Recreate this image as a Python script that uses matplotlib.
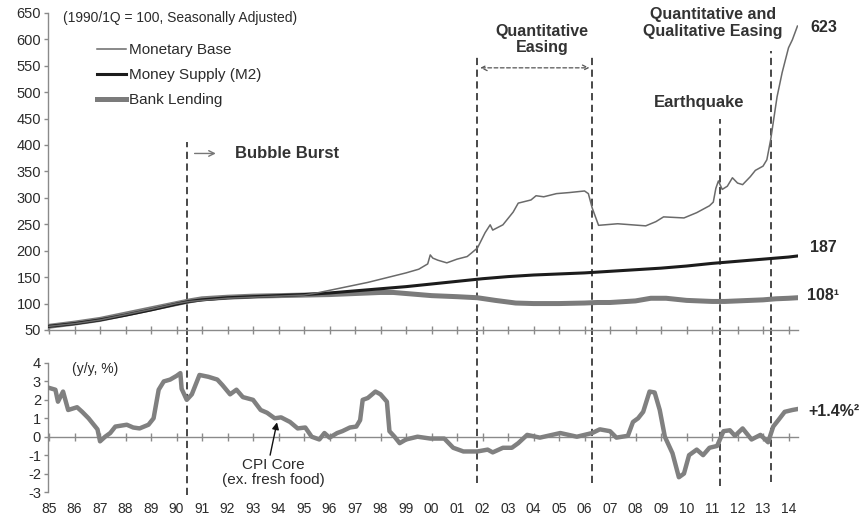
import numpy as np
import matplotlib
matplotlib.use("Agg")
import matplotlib.pyplot as plt

plt.rcParams['font.family'] = ['Liberation Sans', 'DejaVu Sans']
plt.rcParams['axes.unicode_minus'] = False

# ---- data ----
mb_x = [1985, 1986, 1987, 1988, 1989, 1990, 1990.5, 1991, 1992, 1993, 1994, 1995, 1995.5,
        1996, 1996.5, 1997, 1997.5, 1998, 1998.5, 1999, 1999.5, 1999.85, 1999.95, 2000.05,
        2000.25, 2000.6, 2001.0, 2001.4, 2001.8, 2002.1, 2002.3, 2002.4, 2002.8, 2003.2,
        2003.4, 2003.9, 2004.1, 2004.4, 2004.9, 2005.4, 2006.0, 2006.15, 2006.3, 2006.55,
        2007.3, 2008.4, 2008.8, 2009.1, 2009.9, 2010.4, 2010.9, 2011.05, 2011.15, 2011.25,
        2011.4, 2011.6, 2011.8, 2012.0, 2012.2, 2012.5, 2012.7, 2013.0, 2013.15, 2013.3,
        2013.55, 2013.75, 2014.0, 2014.15, 2014.35]
mb_y = [57, 62, 69, 79, 89, 100, 104, 106, 110, 112, 114, 116, 120,
        125, 130, 135, 140, 146, 152, 158, 165, 175, 192, 186,
        182, 177, 184, 189, 205, 234, 249, 239, 249, 273,
        290, 296, 304, 302, 308, 310, 313, 308, 281, 248,
        251, 247, 255, 264, 262, 272, 285, 292, 318, 332,
        316, 322, 338, 328, 325, 340, 352, 360, 372, 410,
        491, 537, 584, 599, 625]

m2_x = [1985, 1986, 1987, 1988, 1989, 1990, 1990.5, 1991, 1992, 1993, 1994, 1995, 1996,
        1997, 1998, 1999, 2000, 2001, 2002, 2003, 2004, 2005, 2006, 2007, 2008, 2009,
        2010, 2011, 2012, 2013, 2014, 2014.35]
m2_y = [57, 62, 69, 78, 88, 99, 104, 107, 111, 113, 115, 117, 120,
        124, 128, 132, 137, 142, 147, 151, 154, 156, 158, 161, 164, 167,
        171, 176, 180, 184, 188, 190]

bl_x = [1985, 1986, 1987, 1988, 1989, 1990, 1990.5, 1991, 1992, 1993, 1994, 1995, 1996,
        1997, 1998, 1998.5, 1999, 2000, 2001, 2001.8, 2002.5, 2003.3, 2004, 2005, 2006,
        2006.5, 2007, 2008, 2008.6, 2009.2, 2010, 2011, 2011.5, 2012, 2013, 2013.5, 2014,
        2014.35]
bl_y = [57, 63, 70, 80, 90, 100, 105, 109, 112, 114, 115, 116, 117,
        119, 121, 121, 119, 115, 113, 111, 106, 101, 100, 100, 101,
        102, 102, 105, 110, 110, 106, 104, 104, 105, 107, 109, 110,
        111]

cpi_x = [1985.0, 1985.25, 1985.35, 1985.55, 1985.75, 1986.1, 1986.3, 1986.55, 1986.9, 1987.0,
         1987.2, 1987.4, 1987.6, 1988.05, 1988.3, 1988.55, 1988.9, 1989.1, 1989.3, 1989.5,
         1989.75, 1990.0, 1990.15, 1990.2, 1990.4, 1990.6, 1990.9, 1991.25, 1991.6, 1991.8,
         1992.1, 1992.35, 1992.6, 1993.0, 1993.3, 1993.55, 1993.85, 1994.1, 1994.45, 1994.75,
         1995.05, 1995.3, 1995.6, 1995.8, 1996.0, 1996.3, 1996.5, 1996.8, 1997.05, 1997.2,
         1997.3, 1997.5, 1997.8, 1998.0, 1998.25, 1998.35, 1998.55, 1998.75, 1999.0, 1999.45,
         1999.95, 2000.5, 2000.85, 2001.25, 2001.8, 2002.2, 2002.4, 2002.8, 2003.15, 2003.4,
         2003.75, 2004.25, 2005.05, 2005.7, 2006.3, 2006.6, 2007.0, 2007.25, 2007.7, 2007.9,
         2008.1, 2008.3, 2008.55, 2008.75, 2008.95, 2009.15, 2009.45, 2009.7, 2009.9, 2010.1,
         2010.4, 2010.65, 2010.9, 2011.2, 2011.45, 2011.7, 2011.9, 2012.2, 2012.55, 2012.9,
         2013.2, 2013.4, 2013.6, 2013.85, 2014.15, 2014.35]
cpi_y = [2.65, 2.55, 1.9, 2.45, 1.45, 1.6, 1.35, 1.0, 0.4, -0.25,
         0.0, 0.2, 0.55, 0.65, 0.5, 0.45, 0.65, 1.0, 2.55, 3.0,
         3.1, 3.3, 3.45, 2.6, 2.0, 2.3, 3.35, 3.25, 3.1, 2.8,
         2.3, 2.55, 2.15, 2.0, 1.45, 1.3, 1.0, 1.05, 0.8, 0.45,
         0.5, 0.0, -0.15, 0.2, -0.05, 0.2, 0.3, 0.5, 0.55, 0.9,
         2.0, 2.1, 2.45, 2.3, 1.9, 0.3, 0.0, -0.35, -0.15, 0.0,
         -0.1, -0.1, -0.6, -0.8, -0.8, -0.7, -0.85, -0.6, -0.6, -0.35,
         0.1, -0.05, 0.2, 0.0, 0.2, 0.4, 0.3, -0.05, 0.05, 0.8,
         1.0, 1.35, 2.45, 2.4, 1.45, 0.0, -0.9, -2.2, -2.0, -1.0,
         -0.7, -1.0, -0.6, -0.5, 0.3, 0.35, 0.05, 0.45, -0.15, 0.1,
         -0.3, 0.55, 0.9, 1.35, 1.45, 1.5]

years = list(range(1985, 2015))
year_labels = [f"{y % 100:02d}" for y in years]

# event lines: x position, top (upper panel), bottom (lower panel)
event_x = [1990.4, 2001.8, 2006.3, 2011.3, 2013.3]
event_top = [405, 570, 570, 450, 577]
event_bot = [-3.15, -2.5, -2.5, -2.7, -2.45]

gray_axis = '#8a8a8a'
txt = '#2b2b2b'

fig = plt.figure(figsize=(8.62, 5.19), dpi=100)
ax1 = fig.add_axes([0.0557, 0.3642, 0.870, 0.611])
ax2 = fig.add_axes([0.0557, 0.052, 0.870, 0.2486])

xlim = (1984.96, 2014.37)

# ---- upper panel ----
for x, t in zip(event_x, event_top):
    ax1.plot([x, x], [40, t], color='#3a3a3a', lw=1.3, ls=(0, (4, 2.5)), clip_on=False, zorder=1)

ax1.plot(bl_x, bl_y, color='#7b7b7b', lw=3.6, label='Bank Lending', zorder=3)
ax1.plot(m2_x, m2_y, color='#1c1c1c', lw=2.2, label='Money Supply (M2)', zorder=4)
ax1.plot(mb_x, mb_y, color='#6a6a6a', lw=1.1, label='Monetary Base', zorder=5)

ax1.set_xlim(*xlim)
ax1.set_ylim(50, 650)
ax1.set_yticks(range(50, 651, 50))
ax1.set_xticks(years)
ax1.set_xticklabels([])
for s in ['top', 'right']:
    ax1.spines[s].set_visible(False)
for s in ['left', 'bottom']:
    ax1.spines[s].set_color(gray_axis)
    ax1.spines[s].set_linewidth(1.0)
ax1.tick_params(axis='x', direction='inout', length=6, color=gray_axis, width=1)
ax1.tick_params(axis='y', direction='out', length=3, color=gray_axis, width=1,
                labelsize=10.5, labelcolor=txt, pad=2)

h, l = ax1.get_legend_handles_labels()
order = [2, 1, 0]
ax1.legend([h[i] for i in order], [l[i] for i in order], loc='upper left',
           bbox_to_anchor=(0.065, 0.905), frameon=False, fontsize=11,
           handlelength=1.9, handletextpad=0.2, labelspacing=0.72,
           borderpad=0, borderaxespad=0, labelcolor=txt)

ax1.text(1985.55, 640, '(1990/1Q = 100, Seasonally Adjusted)', fontsize=10,
         color=txt, va='center', ha='left')
ax1.annotate('', xy=(1991.65, 384), xytext=(1990.6, 384),
             arrowprops=dict(arrowstyle='->', color='#777777', lw=1.0))
ax1.text(1992.3, 384, 'Bubble Burst', fontsize=12, fontweight='bold',
         color='#333333', va='center', ha='left')
ax1.annotate('', xy=(event_x[2], 546), xytext=(event_x[1], 546),
             arrowprops=dict(arrowstyle='<->', color='#555555', lw=0.9, ls=(0, (3, 2))))
ax1.text(2004.33, 600, 'Quantitative\nEasing', fontsize=11.5, fontweight='bold',
         color='#333333', va='center', ha='center', linespacing=1.1)
ax1.text(2011.04, 631, 'Quantitative and\nQualitative Easing', fontsize=11.5,
         fontweight='bold', color='#333333', va='center', ha='center', linespacing=1.1)
ax1.text(2010.5, 481, 'Earthquake', fontsize=12, fontweight='bold',
         color='#333333', va='center', ha='center')
ax1.text(2014.84, 623, '623', fontsize=11.5, fontweight='bold', color=txt,
         va='center', ha='left', clip_on=False)
ax1.text(2014.84, 206, '187', fontsize=11.5, fontweight='bold', color=txt,
         va='center', ha='left', clip_on=False)
ax1.text(2014.73, 116, '108\u00b9', fontsize=11.5, fontweight='bold', color=txt,
         va='center', ha='left', clip_on=False)

# ---- lower panel ----
for x, b in zip(event_x, event_bot):
    ax2.plot([x, x], [b, 5.4], color='#3a3a3a', lw=1.3, ls=(0, (4, 2.5)), clip_on=False, zorder=1)

ax2.plot(cpi_x, cpi_y, color='#808080', lw=3.2, zorder=3)

ax2.set_xlim(*xlim)
ax2.set_ylim(-3, 4)
ax2.set_yticks(range(-3, 5))
ax2.set_xticks(years)
ax2.set_xticklabels(year_labels)
ax2.spines['bottom'].set_position(('data', 0))
for s in ['top', 'right']:
    ax2.spines[s].set_visible(False)
for s in ['left', 'bottom']:
    ax2.spines[s].set_color(gray_axis)
    ax2.spines[s].set_linewidth(1.0)
ax2.tick_params(axis='x', direction='inout', length=6, color=gray_axis, width=1,
                labelsize=10, labelcolor=txt, pad=44)
ax2.tick_params(axis='y', direction='out', length=3, color=gray_axis, width=1,
                labelsize=10.5, labelcolor=txt, pad=2)

ax2.text(1985.9, 3.7, '(y/y, %)', fontsize=10, color=txt, va='center', ha='left')
ax2.text(1993.8, -1.95, 'CPI Core\n(ex. fresh food)', fontsize=11, color=txt,
         ha='center', va='center', linespacing=1.05)
ax2.annotate('', xy=(1993.94, 0.78), xytext=(1993.67, -1.0),
             arrowprops=dict(arrowstyle='-|>', color='#111111', lw=1.0,
                             mutation_scale=10, shrinkA=0, shrinkB=0))
ax2.text(2014.76, 1.36, '+1.4%\u00b2', fontsize=11.5, fontweight='bold', color=txt,
         va='center', ha='left', clip_on=False)

fig.savefig('out.png', dpi=100)
